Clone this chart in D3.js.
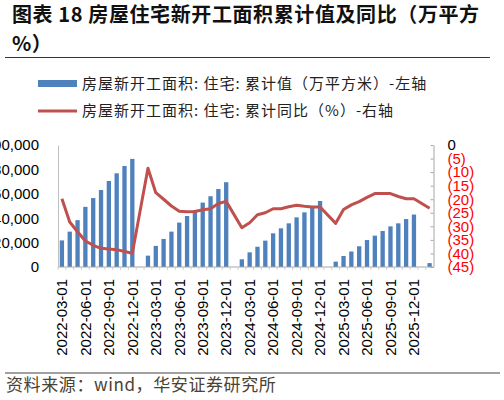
<!DOCTYPE html>
<html>
<head>
<meta charset="utf-8">
<script src="https://cdn.jsdelivr.net/npm/d3@7"></script>
<style>
  body { margin: 0; background: #fff; }
  svg { display: block; }
  .cjk { font-family: "Noto Sans CJK SC", sans-serif; }
  .num { font-family: "Liberation Sans", Arial, sans-serif; }
</style>
</head>
<body>
<div id="chart"></div>
<script>
// months shown on the category axis (Jan values are not published, so they stay empty)
var months = [
  "2022-03","2022-04","2022-05","2022-06","2022-07","2022-08","2022-09","2022-10","2022-11","2022-12",
  "2023-01","2023-02","2023-03","2023-04","2023-05","2023-06","2023-07","2023-08","2023-09","2023-10","2023-11","2023-12",
  "2024-01","2024-02","2024-03","2024-04","2024-05","2024-06","2024-07","2024-08","2024-09","2024-10","2024-11","2024-12",
  "2025-01","2025-02","2025-03","2025-04","2025-05","2025-06","2025-07","2025-08","2025-09","2025-10","2025-11","2025-12",
  "2026-01","2026-02"
];

// 房屋新开工面积:住宅:累计值 (万平方米)
var areaCum = [
  21800, 29000, 38400, 49300, 56500, 63100, 70500, 76800, 82800, 88600,
  null, 9300, 17300, 23000, 29000, 36400, 41800, 46700, 52800, 58000, 63900, 69500,
  null, 6300, 12000, 16600, 21600, 27600, 31700, 35800, 40700, 44800, 48600, 54100,
  null, 4400, 9000, 12700, 17000, 22100, 25700, 29500, 33300, 35800, 39300, 43000,
  null, 3200
];

// 房屋新开工面积:住宅:累计同比 (%)
var yoyCum = [
  -19.8, -28.4, -32.0, -35.4, -37.0, -38.1, -38.4, -38.6, -39.3, -39.9,
  null, -8.6, -17.6, -20.0, -22.5, -24.4, -24.6, -24.5, -23.9, -23.5, -21.6, -20.8,
  null, -30.5, -28.7, -25.7, -25.0, -23.5, -23.5, -22.8, -22.2, -22.6, -22.9, -22.9,
  null, -28.9, -23.8, -22.1, -20.9, -19.3, -17.9, -17.9, -17.9, -19.0, -19.8, -19.8,
  null, -23.3
];

var xTickLabels = [
  "2022-03-01","2022-06-01","2022-09-01","2022-12-01",
  "2023-03-01","2023-06-01","2023-09-01","2023-12-01",
  "2024-03-01","2024-06-01","2024-09-01","2024-12-01",
  "2025-03-01","2025-06-01","2025-09-01","2025-12-01"
];
var leftTicks = [0, 20000, 40000, 60000, 80000, 100000];
var rightTicks = [0, -5, -10, -15, -20, -25, -30, -35, -40, -45];

var blue = "#4F81BD", red = "#C0504D";

var svg = d3.select("#chart").append("svg")
  .attr("width", 504)
  .attr("height", 400);

// title
var title = svg.append("text").attr("class", "cjk")
  .attr("font-size", "20px").attr("font-weight", "bold")
  .attr("letter-spacing", "0.6px").attr("fill", "#111");
title.append("tspan").attr("x", 12).attr("y", 22).text("图表 18 房屋住宅新开工面积累计值及同比（万平方");
title.append("tspan").attr("x", 12).attr("y", 51).text("%）");

svg.append("line")
  .attr("x1", 5).attr("x2", 490).attr("y1", 57.5).attr("y2", 57.5)
  .attr("stroke", "#333").attr("stroke-width", 1);

// legend
svg.append("rect").attr("x", 38).attr("y", 80).attr("width", 39).attr("height", 7).attr("fill", blue);
svg.append("text").attr("class", "cjk").attr("x", 82).attr("y", 84)
  .attr("dy", "0.35em").attr("font-size", "15px").attr("letter-spacing", "1px").attr("fill", "#222")
  .text("房屋新开工面积: 住宅: 累计值（万平方米）-左轴");
svg.append("line").attr("x1", 38).attr("x2", 77).attr("y1", 111).attr("y2", 111)
  .attr("stroke", red).attr("stroke-width", 3);
svg.append("text").attr("class", "cjk").attr("x", 82).attr("y", 111)
  .attr("dy", "0.35em").attr("font-size", "15px").attr("letter-spacing", "1px").attr("fill", "#222")
  .text("房屋新开工面积: 住宅: 累计同比（%）-右轴");

// scales
var x = d3.scaleBand().domain(months).range([58, 433.5]).paddingInner(0.45).paddingOuter(0.225);
var yL = d3.scaleLinear().domain([0, 100000]).range([267, 145]);
var yR = d3.scaleLinear().domain([-45, 0]).range([267, 145]);

var rows = months.map(function(m, i) { return { m: m, area: areaCum[i], yoy: yoyCum[i] }; });

// bars
svg.append("g").selectAll("rect")
  .data(rows.filter(function(d) { return d.area != null; }))
  .enter().append("rect")
  .attr("x", function(d) { return x(d.m); })
  .attr("width", x.bandwidth())
  .attr("y", function(d) { return yL(d.area); })
  .attr("height", function(d) { return yL(0) - yL(d.area); })
  .attr("fill", blue);

// x baseline with small ticks at category edges
svg.append("line")
  .attr("x1", x.range()[0]).attr("x2", x.range()[1])
  .attr("y1", yL(0)).attr("y2", yL(0))
  .attr("stroke", "#a6a6a6");
svg.append("g").selectAll("line")
  .data(months)
  .enter().append("line")
  .attr("x1", function(d) { return x(d) - x.step() * x.paddingInner() / 2; })
  .attr("x2", function(d) { return x(d) - x.step() * x.paddingInner() / 2; })
  .attr("y1", yL(0)).attr("y2", yL(0) + 3)
  .attr("stroke", "#d0d0d0");

svg.append("g").selectAll("text")
  .data(xTickLabels)
  .enter().append("text")
  .attr("class", "num")
  .attr("font-size", "15px")
  .attr("text-anchor", "end")
  .attr("dy", "0.35em")
  .attr("transform", function(d) {
    return "translate(" + (x(d.slice(0, 7)) + x.bandwidth() / 2) + "," + (yL(0) + 12) + ") rotate(-90)";
  })
  .text(function(d) { return d; });

// left axis
var gL = svg.append("g").attr("transform", "translate(58,0)")
  .call(d3.axisLeft(yL).tickValues(leftTicks).tickSize(0).tickPadding(19).tickFormat(d3.format(",")));
gL.select(".domain").attr("stroke", "#bfbfbf");
gL.selectAll("text").attr("class", "num").attr("font-size", "15px").attr("fill", "#000")
  .attr("font-family", "Liberation Sans, Arial, sans-serif");

// right axis
var gR = svg.append("g").attr("transform", "translate(433.5,0)")
  .call(d3.axisRight(yR).tickValues(rightTicks).tickSizeInner(-3).tickSizeOuter(0).tickPadding(14)
    .tickFormat(function(d) { return d === 0 ? "0" : "(" + (-d) + ")"; }));
gR.select(".domain").attr("stroke", "#a6a6a6");
gR.selectAll(".tick line").attr("stroke", "#a6a6a6");
gR.selectAll("text").attr("font-size", "15px")
  .attr("font-family", "Liberation Sans, Arial, sans-serif")
  .attr("fill", function(d) { return d === 0 ? "#000" : "#FF0000"; });

// yoy line (skips the empty January slots)
var line = d3.line()
  .x(function(d) { return x(d.m) + x.bandwidth() / 2; })
  .y(function(d) { return yR(d.yoy); });
svg.append("path")
  .datum(rows.filter(function(d) { return d.yoy != null; }))
  .attr("d", line)
  .attr("fill", "none")
  .attr("stroke", red)
  .attr("stroke-width", 3)
  .attr("stroke-linejoin", "round");

// source
svg.append("line")
  .attr("x1", 5).attr("x2", 500).attr("y1", 373).attr("y2", 373)
  .attr("stroke", "#808080").attr("stroke-width", 1.5);
svg.append("text").attr("class", "cjk").attr("x", 6).attr("y", 385)
  .attr("dy", "0.35em").attr("font-size", "17px").attr("letter-spacing", "0.6px").attr("fill", "#4a4232")
  .text("资料来源：wind，华安证券研究所");
</script>
</body>
</html>
